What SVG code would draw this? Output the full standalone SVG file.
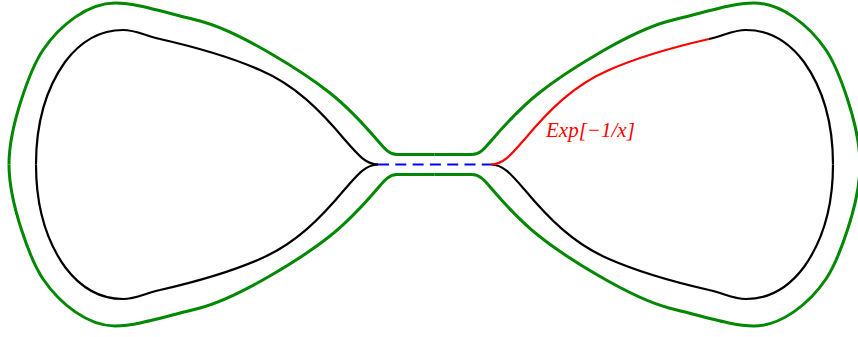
<svg xmlns="http://www.w3.org/2000/svg" xmlns:xlink="http://www.w3.org/1999/xlink" width="858" height="337" viewBox="0 0 858 337">
<style>
.bk{fill:none;stroke:#000;stroke-width:2.2;stroke-linecap:butt}
.rd{fill:none;stroke:#ff0000;stroke-width:2.2}
.gr{fill:none;stroke:#008800;stroke-width:3}
.bl{fill:none;stroke:#0000ff;stroke-width:2.2;stroke-dasharray:11 6.3}
.lbl{font-family:"Liberation Serif","Times New Roman",serif;font-style:italic;font-size:21px;fill:#ff0000}
</style>
<defs>
<path id="bA" d="M378,164.5 C366,164.5 358,155 345,140 C320,110 295,85 260,70 C235,59 195,47 160,39"/>
<path id="bB" d="M160,39 C144,35.3 136,30 123,30 C100,30 80,42 65,62 C45,90 36,125 36,164.5"/>
<path id="g" d="M434.5,154.5 L397,154.5 C389,154.5 384,148 378,141 C366,127 347,106.5 330,93 C305,73 240,31.5 200,21 C160,11 135,3 115,3 C88,3 60,25 43,50 C31,68 9,125 9,164.5"/>
</defs>
<g id="outer-green">
<use xlink:href="#g" href="#g" class="gr"/>
<use xlink:href="#g" href="#g" class="gr" transform="matrix(-1,0,0,1,869,0)"/>
<use xlink:href="#g" href="#g" class="gr" transform="matrix(1,0,0,-1,0,329)"/>
<use xlink:href="#g" href="#g" class="gr" transform="matrix(-1,0,0,-1,869,329)"/>
</g>
<g id="inner-black">
<use xlink:href="#bA" href="#bA" class="bk"/>
<use xlink:href="#bB" href="#bB" class="bk"/>
<use xlink:href="#bA" href="#bA" class="bk" transform="matrix(1,0,0,-1,0,329)"/>
<use xlink:href="#bB" href="#bB" class="bk" transform="matrix(1,0,0,-1,0,329)"/>
<use xlink:href="#bB" href="#bB" class="bk" transform="matrix(-1,0,0,1,869,0)"/>
<use xlink:href="#bA" href="#bA" class="bk" transform="matrix(-1,0,0,-1,869,329)"/>
<use xlink:href="#bB" href="#bB" class="bk" transform="matrix(-1,0,0,-1,869,329)"/>
</g>
<g id="red-segment">
<use xlink:href="#bA" href="#bA" class="rd" transform="matrix(-1,0,0,1,869,0)"/>
</g>
<g id="blue-dashed">
<line x1="378" y1="164.5" x2="491" y2="164.5" class="bl"/>
</g>
<text x="546" y="137" class="lbl">Exp[−1/x]</text>
</svg>
